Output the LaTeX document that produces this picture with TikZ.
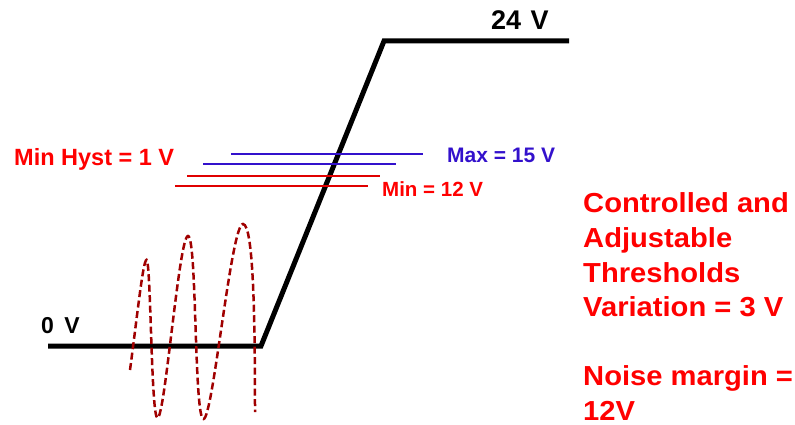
\documentclass[tikz,border=0pt]{standalone}
\usepackage{fontspec}
\setmainfont{Liberation Sans}
\definecolor{tred}{HTML}{FF0000}
\definecolor{lred}{HTML}{E00000}
\definecolor{tblue}{HTML}{3311CC}
\definecolor{wave}{HTML}{A00000}
\begin{document}
\begin{tikzpicture}[x=1pt,y=-1pt,
  lbl/.style={inner sep=0pt,anchor=base west,font=\bfseries},
  sig/.style={line width=5pt,line join=miter,black},
  thr/.style={line width=2pt},
  noisy/.style={wave,line width=2.5pt,dash pattern=on 7pt off 3.5pt}]
\useasboundingbox (0,0) rectangle (795,425);
% signal
\coordinate (s0) at (48,346);
\coordinate (s1) at (261,346);
\coordinate (s2) at (384,41);
\coordinate (s3) at (569,41);
\draw[sig] (s0) -- (s1) -- (s2) -- (s3);
% threshold lines
\coordinate (b1a) at (231,154); \coordinate (b1b) at (423,154);
\coordinate (b2a) at (203,164); \coordinate (b2b) at (396,164);
\coordinate (r1a) at (187,176); \coordinate (r1b) at (380,176);
\coordinate (r2a) at (175,186); \coordinate (r2b) at (368,186);
\draw[thr,tblue] (b1a) -- (b1b);
\draw[thr,tblue] (b2a) -- (b2b);
\draw[thr,lred] (r1a) -- (r1b);
\draw[thr,lred] (r2a) -- (r2b);
% noise
\coordinate (n0) at (130,370);
\coordinate (n1) at (146.5,260);
\coordinate (n2) at (157.5,418);
\coordinate (n3) at (188,236);
\coordinate (n4) at (203.5,419);
\coordinate (n5) at (243,224);
\coordinate (n6) at (255,412);
\draw[noisy] (n0) .. controls (137,318) and (143,260) .. (n1)
  .. controls (151,260) and (151,418) .. (n2)
  .. controls (165,418) and (179,236) .. (n3)
  .. controls (197,236) and (194,419) .. (n4)
  .. controls (213,419) and (231,224) .. (n5)
  .. controls (254,224) and (255,330) .. (n6);
% labels
\node[lbl,font=\bfseries\fontsize{27}{32}\selectfont] (v24) at (491,30) {24\hspace{0.35em}V};
\node[lbl,font=\bfseries\fontsize{23}{28}\selectfont] (v0) at (41,333) {0\hspace{0.45em}V};
\node[lbl,tred,font=\bfseries\fontsize{23.5}{28}\selectfont] (hyst) at (14,165) {Min Hyst = 1 V};
\node[lbl,tblue,font=\bfseries\fontsize{21}{25}\selectfont] (max) at (447,162.5) {Max = 15 V};
\node[lbl,tred,font=\bfseries\fontsize{20.5}{25}\selectfont] (min) at (382,196.5) {Min = 12 V};
\node[inner sep=0pt,anchor=north west,align=left,tred,font=\bfseries\fontsize{27.5}{34.6}\selectfont\addfontfeature{FakeStretch=1.06}] (txt) at (583,192.8)
  {Controlled and\\Adjustable\\Thresholds\\Variation = 3 V\\[34.6pt]Noise margin =\\12V};
\end{tikzpicture}
\end{document}
